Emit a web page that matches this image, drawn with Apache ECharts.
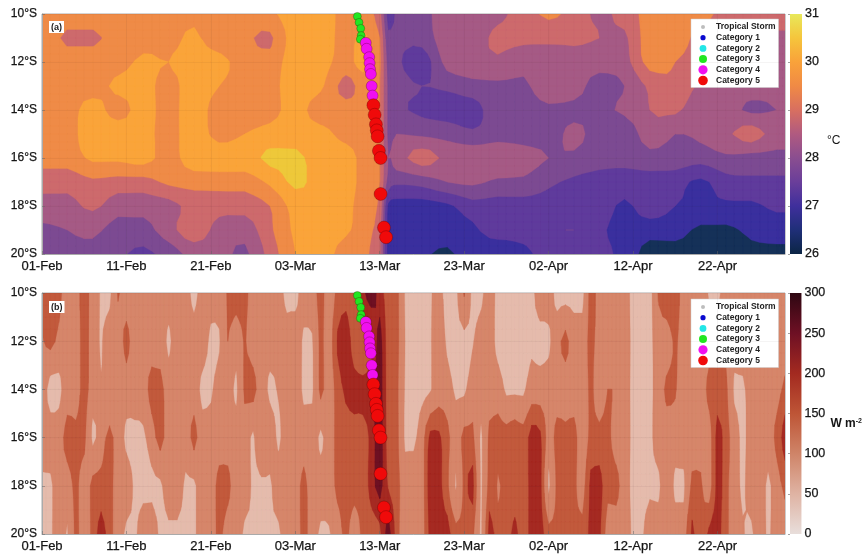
<!DOCTYPE html>
<html><head><meta charset="utf-8">
<style>html,body{margin:0;padding:0;background:#fff}#c{width:864px;height:554px;filter:blur(0.45px)}</style>
<script src="https://cdn.jsdelivr.net/npm/echarts@6/dist/echarts.min.js"></script>
</head><body><div id="c"></div>
<script>
const tickLabels = ['01-Feb','11-Feb','21-Feb','03-Mar','13-Mar','23-Mar','02-Apr','12-Apr','22-Apr'];
const sstDays = [0,3,6,9,12,15,18,21,24,27,30,33,36,38,40,41,42,45,48,51,54,57,60,63,66,69,72,75,78,81,84,87,88];
const sstLats = [10,11,12,13,14,15,16,17,18,19,20];
const sst10 = [29.3,29.3,29.3,29.4,29.3,29.3,29.4,29.3,29.3,29.4,29.8,29.8,29.3,29.3,28.7,27.3,27.6,27.8,28.3,28.3,28.4,28.7,29.1,28.8,28.4,28.7,29.2,29.2,29.2,28.8,28.7,28.7,28.7];
const sst11 = [29.3,28.9,28.9,29.2,29.3,29.3,29.6,29.1,29.1,28.9,29.8,29.8,29.3,29.6,29.0,27.6,27.6,27.7,28.3,28.3,28.6,28.6,28.6,28.6,28.5,28.4,29.3,29.3,28.8,28.7,28.7,28.4,28.4];
const sst12 = [29.3,29.3,29.3,29.3,29.6,29.5,29.8,29.7,29.2,29.2,29.8,29.7,29.3,29.7,29.1,27.8,27.6,27.2,28.2,28.4,28.4,28.2,28.3,28.3,28.2,28.3,29.2,29.0,28.7,28.3,28.3,28.2,28.2];
const sst13 = [29.3,29.3,29.3,29.6,29.7,29.3,29.8,29.5,29.2,29.3,29.8,29.6,28.8,29.2,29.0,27.9,27.7,27.5,27.6,27.8,27.9,27.9,28.3,28.2,27.8,28.0,28.6,28.9,28.4,28.3,28.3,28.2,28.2];
const sst14 = [29.4,29.3,29.7,29.3,29.7,29.3,29.8,29.2,29.2,29.3,29.7,29.2,29.2,29.2,29.0,27.9,27.6,27.4,27.3,27.3,27.8,27.8,27.9,27.9,27.9,28.1,28.5,28.6,28.1,28.2,27.9,28.0,28.0];
const sst15 = [29.3,29.3,29.8,29.8,29.7,29.3,29.8,29.3,29.5,29.7,29.8,29.7,29.3,29.2,29.0,27.9,28.0,27.9,27.8,27.6,27.8,27.8,27.8,28.1,27.8,27.6,28.3,28.0,28.1,28.4,28.7,28.3,28.3];
const sst16 = [29.2,29.2,29.6,29.6,29.7,29.3,29.8,29.8,29.8,30.1,30.1,29.8,29.8,29.3,29.0,28.0,28.3,28.7,28.4,28.4,28.4,28.2,28.0,27.9,27.7,27.6,27.8,27.8,27.7,27.9,27.8,27.8,27.8];
const sst17 = [28.7,28.7,28.9,28.8,28.8,29.1,29.2,29.2,29.2,29.6,30.1,29.8,29.8,29.3,29.0,27.8,27.6,27.7,28.0,28.1,27.9,27.9,27.6,27.4,27.3,27.3,27.3,27.2,26.9,27.3,27.4,27.4,27.4];
const sst18 = [28.3,28.3,28.6,28.2,28.2,28.3,28.7,28.7,28.7,29.0,29.7,29.8,29.7,29.2,28.9,26.9,26.8,26.8,26.9,27.3,27.3,27.3,27.3,27.3,27.3,26.9,27.3,27.0,26.9,26.9,26.9,27.1,27.1];
const sst19 = [27.9,28.0,28.1,27.8,27.8,28.3,28.8,28.3,28.2,28.9,29.6,29.8,29.6,29.2,28.7,26.8,26.7,26.8,26.8,26.9,27.3,27.3,27.4,27.5,27.1,26.8,26.7,26.7,26.4,26.4,26.6,26.7,26.7];
const sst20 = [27.8,27.9,27.9,27.6,27.4,27.7,28.2,28.2,27.9,28.7,29.5,29.8,29.2,29.1,28.6,26.8,26.8,26.6,26.4,26.8,26.5,26.8,27.3,27.3,27.2,26.8,26.3,26.3,26.3,26.2,26.4,26.4,26.4];

const fluxDays = Array.from({length:89},(_, i)=>i);
const fluxLats = [10,12,14,16,18,20];
const flux10 = [175,175,170,125,125,180,125,90,80,160, 125,125,125,125,125,125,125,125,75,125, 125,125,160,175,175,125,125,150,125,75, 75,125,125,175,125,170,190,190,240,280, 230,180,175,90,75,75,90,110,75,75, 160,75,80,125,75,75,75,80,80,125, 125,75,75,75,75,180,125,125,125,125, 75,75,75,160,200,190,125,125,125,90, 80,125,125,125,125,125,125,125,125];
const flux12 = [150,170,140,125,125,175,125,90,125,125, 170,125,125,125,125,85,125,125,125,130, 80,90,155,125,160,125,120,125,125,125, 130,85,90,170,125,210,230,180,175,190, 280,170,175,95,75,75,90,125,85,75, 80,90,125,125,75,75,75,85,85,80, 85,130,170,125,125,170,130,125,125,125, 80,75,80,125,125,165,125,125,125,125, 130,135,125,125,125,125,125,125,125];
const flux14 = [125,75,80,125,125,175,125,100,100,125, 125,125,130,175,175,125,125,125,125,80, 85,125,125,85,165,170,125,85,100,125, 125,85,85,170,125,180,215,220,215,235, 285,175,170,90,80,80,90,125,120,85, 85,125,125,125,125,85,85,85,125,125, 125,125,125,125,125,165,130,155,150,125, 80,75,80,125,165,160,125,130,125,170, 175,170,85,85,120,125,125,130,170];
const flux16 = [125,125,130,175,170,170,85,125,170,125, 85,80,85,125,175,125,125,125,170,125, 125,125,125,125,125,85,150,130,85,125, 125,125,125,85,125,170,180,185,190,215, 290,175,175,85,85,125,220,215,170,130, 170,170,85,170,175,175,190,175,225,215, 130,175,170,175,125,170,170,170,130,125, 80,75,80,125,125,125,125,125,125,125, 225,175,130,80,125,125,125,170,225];
const flux18 = [85,85,125,125,170,125,170,175,175,125, 125,85,80,85,85,125,125,85,85,125, 125,175,170,125,125,85,85,85,125,95, 125,170,125,125,125,170,175,175,175,225, 275,200,175,125,125,125,240,220,170,90, 170,220,85,180,150,170,165,170,225,225, 85,170,175,170,130,220,225,170,170,125, 80,75,85,85,125,85,85,170,165,125, 225,170,125,85,125,125,85,125,170];
const flux20 = [85,85,125,90,170,125,170,225,175,125, 85,85,125,125,85,85,85,85,85,125, 125,170,125,125,85,85,85,85,85,125, 125,170,125,85,90,125,170,125,170,175, 190,280,175,125,125,125,225,215,225,170, 170,170,85,225,170,170,225,170,230,230, 170,170,175,175,170,220,220,125,125,125, 85,85,125,125,125,125,125,215,170,215, 225,170,125,100,85,125,85,125,125];

const cat3Track = [[37.35,10.1],[37.55,10.35],[37.75,10.6],[37.8,10.9],[37.7,11.05]];
const cat4Track = [[38.35,11.2],[38.45,11.45],[38.75,11.8],[38.8,12.05],[38.85,12.3],[38.95,12.5],[39.05,13.0],[39.15,13.4]];
const cat5Track = [[39.25,13.8],[39.4,14.2],[39.55,14.6],[39.65,14.85],[39.75,15.1],[39.9,15.7],[40.1,16.0],[40.1,17.5],[40.5,18.9],[40.75,19.3]];

const sstLevels = [-Infinity,26.5,27,27.5,28,28.5,29,29.5,30];
const sstColors = ['#153158','#3A2F9E','#5F3B9C','#7C4A92','#A55A85','#CD6A6C','#EF8B47','#FAA43A','#EEC83A'];
const fluxLevels = [-Infinity,50,95,155,205,255,300];
const fluxColors = ['#EBD5CE','#E5BBAC','#D6866A','#C25A3C','#A52A22','#6E1022','#3A0715'];
const sstBar = ['#0B2545','#1F2F78','#3F2F9C','#6A3E9A','#8A4E90','#B05A80','#D86F60','#F08A45','#F9A23A','#F5C53C','#E8E85A'];
const fluxBar = ['#E8DEDB','#DFB3A3','#CF8468','#BE5536','#A32A20','#6E1024','#2E0712'];

const sstGrid = [sst10,sst11,sst12,sst13,sst14,sst15,sst16,sst17,sst18,sst19,sst20];
const fluxGrid = [flux10,flux12,flux14,flux16,flux18,flux20];

// drawing helper: rounds contour corners (Catmull-Rom between the read values, kept within neighbours)
function cr(a,b,c,d,t){
  const v=0.5*((2*b)+(c-a)*t+(2*a-5*b+4*c-d)*t*t+(3*b-a-3*c+d)*t*t*t);
  return Math.max(Math.min(b,c),Math.min(Math.max(b,c),v));
}
function subdivide1(arr,k){
  const out=[];const n=arr.length;
  for(let i=0;i<n-1;i++){for(let s=0;s<k;s++){
    out.push(cr(arr[Math.max(i-1,0)],arr[i],arr[i+1],arr[Math.min(i+2,n-1)],s/k));
  }}
  out.push(arr[n-1]);return out;
}
function linAxis(arr,k){const out=[];for(let i=0;i<arr.length-1;i++)for(let s=0;s<k;s++)out.push(arr[i]+(arr[i+1]-arr[i])*s/k);out.push(arr[arr.length-1]);return out;}
function refine(xs,ys,g,kx,ky){
  const byRow=g.map(r=>subdivide1(r,kx));
  const W=byRow[0].length;const cols=[];
  for(let i=0;i<W;i++)cols.push(subdivide1(byRow.map(r=>r[i]),ky));
  const H=cols[0].length;const out=[];
  for(let j=0;j<H;j++){out.push(cols.map(c=>c[j]));}
  return {xs:linAxis(xs,kx),ys:linAxis(ys,ky),g:out};
}
function bandPath(api, xs, ys, g, lev){
  const parts=[];
  for (let j=0;j<ys.length-1;j++) for (let i=0;i<xs.length-1;i++){
    const c=[[xs[i],ys[j],g[j][i]],[xs[i+1],ys[j],g[j][i+1]],[xs[i+1],ys[j+1],g[j+1][i+1]],[xs[i],ys[j+1],g[j+1][i]]];
    if(c[0][2]<lev&&c[1][2]<lev&&c[2][2]<lev&&c[3][2]<lev) continue;
    const pts=[];
    for(let k=0;k<4;k++){
      const a=c[k],b=c[(k+1)%4];
      if(a[2]>=lev) pts.push([a[0],a[1]]);
      if((a[2]>=lev)!==(b[2]>=lev)){
        const t=(lev-a[2])/(b[2]-a[2]);
        pts.push([a[0]+t*(b[0]-a[0]),a[1]+t*(b[1]-a[1])]);
      }
    }
    if(pts.length>=3){
      let d='';
      pts.forEach((p,n)=>{const q=api.coord(p); d+=(n?'L':'M')+q[0].toFixed(2)+' '+q[1].toFixed(2);});
      parts.push(d+'Z');
    }
  }
  return parts.join('');
}
function contourSeries(xi,yi,xs,ys,g,levels,colors,kx,ky){
  const R=refine(xs,ys,g,kx,ky);
  return {type:'custom',xAxisIndex:xi,yAxisIndex:yi,silent:true,clip:true,z:1,
    data:levels.map((_,i)=>[i]),encode:{x:[],y:[]},
    renderItem(params,api){
      const i=params.dataIndex;
      return {type:'path',shape:{pathData:bandPath(api,R.xs,R.ys,R.g,levels[i])},
        style:{fill:colors[i],stroke:colors[i],lineWidth:0.3}};
    }};
}
function barSeries(xi,yi,lo,hi,stops){
  return {type:'custom',xAxisIndex:xi,yAxisIndex:yi,silent:true,data:[[0]],encode:{x:[],y:[]},
    renderItem(params,api){
      const a=api.coord([0,hi]),b=api.coord([1,lo]);
      return {type:'rect',shape:{x:a[0],y:a[1],width:b[0]-a[0],height:b[1]-a[1]},
        style:{fill:new echarts.graphic.LinearGradient(0,1,0,0,stops.map((c,i)=>({offset:i/(stops.length-1),color:c})))}};
    }};
}
function track(name,xi,yi,pts,color,size){
  return {name,type:'scatter',xAxisIndex:xi,yAxisIndex:yi,data:pts,symbolSize:size,clip:false,z:5,
    itemStyle:{color,opacity:1,borderColor:'rgba(60,0,0,0.55)',borderWidth:0.5},silent:true};
}
const names=['Tropical Storm','Category 1','Category 2','Category 3','Category 4','Category 5'];
const colors=['#BDBDBD','#0A0ACF','#22E6E6','#22E622','#F010F0','#F00A0A'];
const radii=[2,2.6,3.4,4,4.6,4.8];
const legendData=names.map((n,i)=>{
  const r=radii[i]*1.2, c=6;
  return {name:n,icon:`path://M0 0M12 12M${c-r} ${c}a${r} ${r} 0 1 0 ${2*r} 0a${r} ${r} 0 1 0 ${-2*r} 0Z`};
});
function legend(top){
  return {show:true,orient:'vertical',left:691,top,itemWidth:12,itemHeight:10,itemGap:0.7,padding:[3,3,2,7],
    backgroundColor:'#fff',borderColor:'#ccc',borderWidth:0.5,selectedMode:false,itemStyle:{borderWidth:0},
    textStyle:{fontFamily:'Liberation Sans',fontSize:8.5,fontWeight:'bold',color:'#222',padding:[0,0,0,2]},
    data:legendData};
}
const axisFont={fontFamily:'Liberation Sans',color:'#151515',textBorderColor:'#151515',textBorderWidth:0.25};
function xAx(gi){return {type:'value',gridIndex:gi,min:0,max:88,interval:10,position:'bottom',
  axisLine:{show:true,lineStyle:{color:'#aaa',width:1}},axisTick:{show:true,inside:true,length:3,lineStyle:{color:'#666',width:0.5}},
  splitLine:{show:true,lineStyle:{color:'rgba(60,30,30,0.05)',width:1}},z:4,
  axisLabel:{...axisFont,fontSize:13,margin:6,hideOverlap:false,showMinLabel:true,showMaxLabel:false,formatter:v=>v%10===0?(tickLabels[v/10]||''):''}};}
function yAx(gi){return {type:'value',gridIndex:gi,min:10,max:20,interval:2,inverse:true,position:'left',
  axisLine:{show:true,lineStyle:{color:'#aaa',width:1}},axisTick:{show:true,inside:true,length:3,lineStyle:{color:'#666',width:0.5}},
  splitLine:{show:true,lineStyle:{color:'rgba(60,30,30,0.05)',width:1}},z:4,
  axisLabel:{...axisFont,fontSize:12,margin:5,formatter:v=>v+'°S'}};}
function barX(gi){return {type:'value',gridIndex:gi,min:0,max:1,show:false};}
function barY(gi,lo,hi,iv,name,gap,weight,shift){return {type:'value',gridIndex:gi,min:lo,max:hi,interval:iv,position:'right',
  axisLine:{show:false},axisTick:{show:true,inside:true,length:2,lineStyle:{color:'#444',width:0.5}},splitLine:{show:false},z:4,
  axisLabel:{...axisFont,fontSize:12.5,margin:3},
  name,nameLocation:'middle',nameRotate:0,nameGap:gap,
  nameTextStyle:{fontFamily:'Liberation Sans',color:'#151515',fontSize:12,fontWeight:weight,padding:[shift,0,0,0],rich:{s:{fontSize:7,fontWeight:'bold',verticalAlign:'top',fontFamily:'Liberation Sans',color:'#222',padding:[0,0,4,0]}}}};}
const chart=echarts.init(document.getElementById('c'),null,{renderer:'canvas'});
const grids=[
  {left:42,top:14,width:743,height:240,show:true,borderColor:'#aaa',borderWidth:1,backgroundColor:'transparent'},
  {left:42,top:293,width:743,height:241,show:true,borderColor:'#aaa',borderWidth:1,backgroundColor:'transparent'},
  {left:790,top:14,width:12,height:240},
  {left:790,top:293,width:12,height:241}];
function panelTag(txt,y){return {type:'text',left:49,top:y,z:20,style:{text:txt,fontFamily:'Liberation Sans',fontSize:9,fontWeight:'bold',fill:'#222',backgroundColor:'#fff',padding:[2,2,1,2]}};}
chart.setOption({
  animation:false,backgroundColor:'#fff',
  grid:grids,
  xAxis:[xAx(0),xAx(1),barX(2),barX(3)],
  yAxis:[yAx(0),yAx(1),barY(2,26,31,1,'°C',25,'normal',14),barY(3,0,300,50,'W m{s|-2}',29,'bold',20)],
  legend:[legend(19),legend(299)],
  graphic:[panelTag('(a)',21),panelTag('(b)',301)],
  series:[
    contourSeries(0,0,sstDays,sstLats,sstGrid,sstLevels,sstColors,3,3),
    contourSeries(1,1,fluxDays,fluxLats,fluxGrid,fluxLevels,fluxColors,2,4),
    barSeries(2,2,26,31,sstBar),
    barSeries(3,3,0,300,fluxBar),
    ...[0,1].flatMap(p=>[
      track(names[0],p,p,[],colors[0],5),
      track(names[1],p,p,[],colors[1],6),
      track(names[2],p,p,[],colors[2],7),
      track(names[3],p,p,cat3Track,colors[3],8),
      track(names[4],p,p,cat4Track,colors[4],11),
      track(names[5],p,p,cat5Track,colors[5],13)
    ])
  ]
});
</script></body></html>
